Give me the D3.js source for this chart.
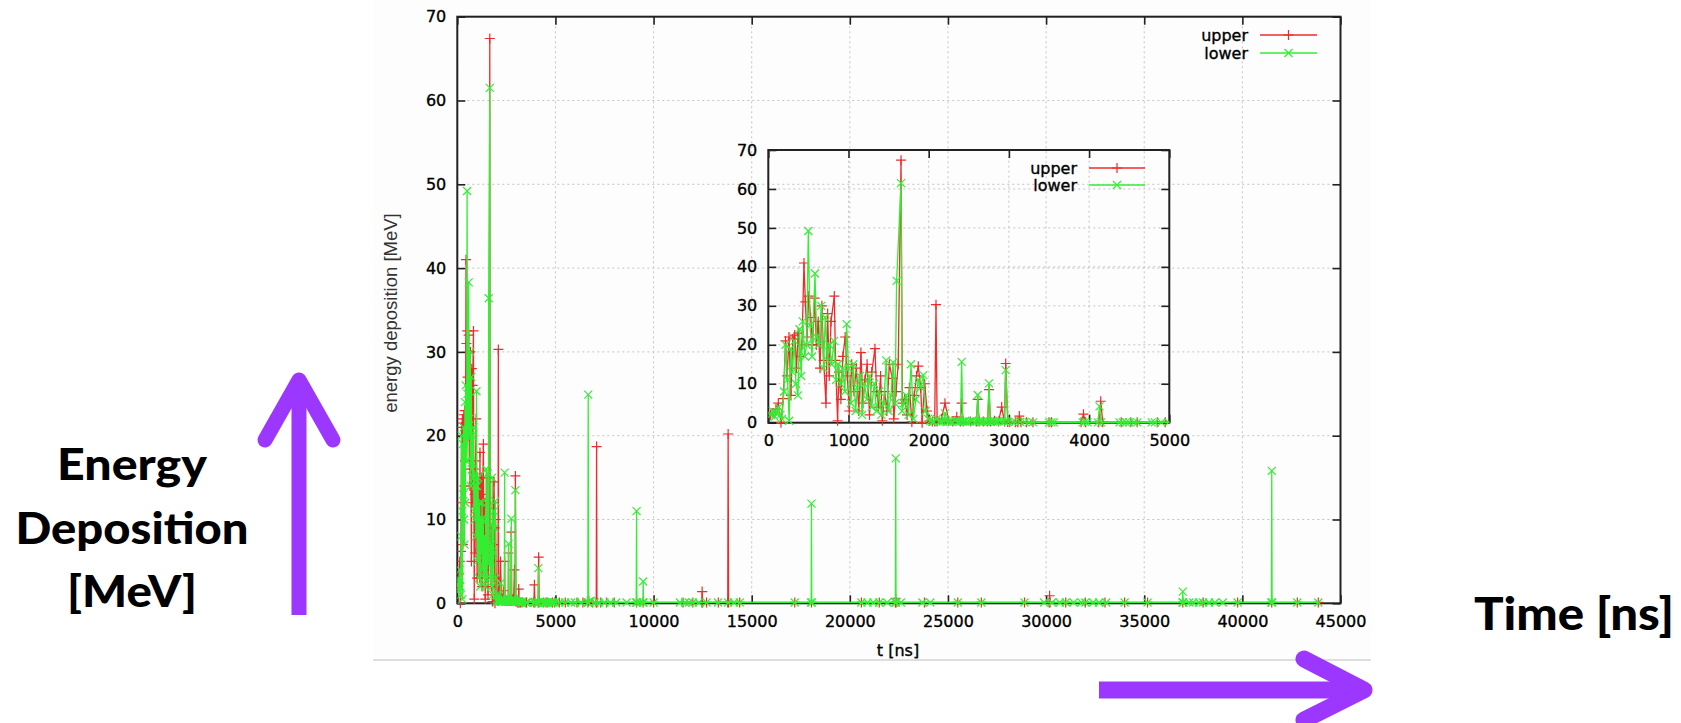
<!DOCTYPE html>
<html><head><meta charset="utf-8">
<script src="https://cdn.jsdelivr.net/npm/d3@7"></script>
<style>
html,body{margin:0;padding:0;background:#fff;}
svg{display:block;}
</style></head>
<body>
<svg id="c" width="1681" height="723"></svg>
<script>
// ---------------- data: [time in ns, energy deposition in MeV] ----------------
const seriesNames = ["upper", "lower"];
const upperPoints = [[30,2],[60,2.5],[95,3.5],[125,5],[158,0],[187,6.2],[215,21],[235,12],[258,22],[282,7],[305,21.5],[330,22.5],[352,14],[372,23],[395,17],[420,20],[445,41],[462,31],[482,22],[505,32.5],[528,27],[552,20],[578,32],[600,20],[622,26],[645,14],[668,30],[690,16],[719,5],[740,28],[760,12],[782,26],[823,32.5],[838,16],[864,0.5],[880,13],[905,6],[930,17],[958,22],[985,12],[1010,3],[1040,15],[1068,8],[1098,14],[1128,3],[1155,18],[1180,5],[1205,11],[1232,15],[1262,2],[1290,13],[1330,19],[1350,8],[1375,4],[1400,12],[1422,0.5],[1450,8],[1478,3],[1510,15],[1547,11.4],[1565,1],[1592,8],[1620,15],[1655,67.4],[1672,5],[1700,6],[1730,2],[1760,9],[1790,0.2],[1820,7],[1848,12],[1870,14.5],[1900,9],[1918,0],[1950,10],[1980,3],
[2010,0.5],[2045,0.3],[2075,0.3],[2091,30.3],[2105,0.3],[2160,1],[2203,5],[2250,0.5],[2300,0.3],[2350,1.5],[2395,0.3],[2411,5],[2430,0.3],[2520,0.3],[2595,0.3],[2611,6],[2630,0.3],[2680,0.3],[2735,0.3],[2752,8.5],[2770,0.3],[2820,0.5],[2870,0.3],[2910,4],[2945,0.3],[2960,15.2],[2985,0.2],
[3010,0.2],[3080,0.1],[3110,0.1],[3130,1.7],[3150,0.1],[3220,0.1],[3300,0.1],[3500,0.1],[3530,0.1],[3900,0.1],[3930,2.2],[3955,0.1],[4120,0.1],[4145,5.5],[4170,0.1],[4400,0.1],[4520,0.1],[4600,0.1],[4850,0.1],[4950,0.1],
[5200,0.1],[5500,0.1],[6100,0.1],[6400,0.1],[6660,0.1],[6700,0.3],[6900,0.1],[7080,0.1],[7097,18.7],[7115,0.1],[7300,0.1],[7600,0.1],[8000,0.1],[9134,0.1],[9470,0.1],[10000,0.1],
[11500,0.1],[12000,0.1],[12460,0.1],[12475,1.4],[12495,0.1],[12700,0.1],[13300,0.1],[13780,0.1],[13800,20.2],[13820,0.1],[14390,0.1],[17195,0.1],[18045,0.1],
[20590,0.1],[21500,0.1],[22320,0.1],[22337,0.6],[22355,0.1],[23800,0.1],[25500,0.1],[26700,0.1],[28900,0.1],[30160,0.1],[30178,0.9],[30200,0.1],[31000,0.1],[32000,0.1],[33000,0.1],[34000,0.1],[35170,0.1],[36966,0.1],[38000,0.1],[39760,0.1],[41497,0.1],[42800,0.1],[43870,0.1]];
const lowerPoints = [[30,2],[55,3],[80,1.5],[105,2.5],[130,4],[150,2],[170,1],[195,8],[215,20],[240,11],[260,0.5],[280,19],[300,13],[325,21],[345,10],[370,7],[390,24],[410,12],[430,26],[455,17],[478,20],[499,49.2],[520,25],[545,17],[582,38.3],[602,22],[630,20],[660,30],[690,14],[710,27],[740,16],[760,20],[790,15],[820,21],[845,11],[870,15],[900,10],[930,14],[955,8],[977,25.3],[1000,14],[1030,5],[1060,15],[1090,3],[1110,9],[1140,12],[1170,2],[1200,10],[1230,6],[1260,12],[1290,4],[1320,10],[1350,3],[1380,8],[1410,2],[1440,5],[1470,16],[1500,3],[1530,7],[1555,15.5],[1580,5],[1600,36.4],[1655,61.5],[1668,3],[1690,5],[1720,7],[1750,2],[1779,15],[1810,1],[1840,6],[1870,11],[1900,9],[1933,12.2],[1960,3],[1990,1],
[2020,0.5],[2040,0.2],[2060,0.3],[2100,1],[2130,0.2],[2150,0.3],[2180,0.3],[2203,2.4],[2230,0.2],[2260,0.3],[2290,0.2],[2330,0.5],[2360,0.3],[2395,0.3],[2411,15.6],[2425,0.3],[2450,0.3],[2480,0.2],[2510,0.3],[2540,0.5],[2570,0.2],[2595,0.3],[2611,7.1],[2625,0.3],[2650,0.3],[2680,0.2],[2710,0.3],[2735,0.3],[2752,10.1],[2768,0.3],[2800,0.3],[2830,0.2],[2850,0.3],[2880,0.5],[2910,0.4],[2945,0.3],[2960,13.5],[2990,0.2],
[3050,0.2],[3080,0.2],[3140,0.2],[3200,0.2],[3250,0.1],[3300,0.1],[3500,0.1],[3530,0.1],[3560,0.1],[3920,0.1],[3950,0.2],[3980,0.1],[4110,0.1],[4130,4.2],[4150,0.1],[4380,0.1],[4420,0.1],[4460,0.1],[4500,0.1],[4560,0.1],[4600,0.1],[4780,0.1],[4820,0.1],[4900,0.1],[4990,0.1],
[5200,0.1],[5500,0.1],[5800,0.1],[6000,0.1],[6300,0.1],[6650,0.1],[6670,24.9],[6690,0.1],[6800,0.3],[7000,0.1],[7200,0.1],[7500,0.1],[7800,0.1],[8100,0.1],[8625,0.1],[9115,0.1],[9134,11],[9150,0.1],[9300,0.1],[9455,0.1],[9470,2.6],[9490,0.1],[10000,0.1],
[11340,0.1],[11600,0.1],[11800,0.1],[12000,0.1],[12300,0.1],[12700,0.1],[13280,0.1],[13800,0.1],[14100,0.1],[14390,0.1],[17195,0.1],[18030,0.1],[18045,11.9],[18060,0.1],
[20590,0.1],[20900,0.1],[21200,0.1],[21500,0.1],[21900,0.1],[22320,0.1],[22337,17.3],[22355,0.1],[22600,0.1],[23700,0.1],[24100,0.1],[25500,0.1],[26700,0.1],[28900,0.1],
[29900,0.1],[30300,0.1],[30700,0.1],[31000,0.1],[31400,0.1],[31800,0.1],[32000,0.1],[32400,0.1],[32700,0.1],[33060,0.1],[34000,0.1],[35170,0.1],[36950,0.1],[36966,1.4],[36985,0.1],[37300,0.1],[37500,0.1],[37800,0.1],[38000,0.1],[38300,0.1],[38600,0.1],[39000,0.1],[39760,0.1],[41480,0.1],[41497,15.8],[41515,0.1],[42800,0.1],[43870,0.1]];
const mainXTicks = [0,5000,10000,15000,20000,25000,30000,35000,40000,45000];
const insetXTicks = [0,1000,2000,3000,4000,5000];
const yTicks = [0,10,20,30,40,50,60,70];
const annotationLeft = ["Energy", "Deposition", "[MeV]"];
const annotationRight = "Time [ns]";
const yLabel = "energy deposition [MeV]";
const xLabel = "t [ns]";

// ---------------- drawing ----------------
const svg = d3.select("#c");
const RED = "#ee2b2b", GREEN = "#33ee33", PURPLE = "#9b37ff";
const series = [
  {name: seriesNames[0], data: upperPoints, color: RED, marker: "M-5,0H5M0,-5V5"},
  {name: seriesNames[1], data: lowerPoints, color: GREEN, marker: "M-4,-4L4,4M-4,4L4,-4"}
];

// chart picture background
svg.append("rect").attr("x", 373).attr("y", 0).attr("width", 998).attr("height", 659).attr("fill", "#fdfdfd");
svg.append("line").attr("x1", 373).attr("x2", 1371).attr("y1", 660).attr("y2", 660)
  .attr("stroke", "#dedede").attr("stroke-width", 2);

const defs = svg.append("defs");
const txt = sel => sel.attr("font-family", "DejaVu Sans").attr("font-size", 16).attr("fill", "#000")
  .attr("stroke", "#000").attr("stroke-width", 0.35);

function panel(id, x, y, xTicks, legend) {
  const g = svg.append("g");
  const [x0, x1] = x.range(), [y0, y1] = y.range();
  defs.append("clipPath").attr("id", id).append("rect")
    .attr("x", x0).attr("y", y1 - 6).attr("width", x1 - x0).attr("height", y0 - y1 + 12);
  // grid
  const grid = g.append("g").attr("stroke", "#c4c4c4").attr("stroke-width", 1).attr("stroke-dasharray", "2,3");
  grid.selectAll(".gx").data(xTicks).join("line")
    .attr("x1", d => x(d)).attr("x2", d => x(d)).attr("y1", y0).attr("y2", y1);
  grid.selectAll(".gy").data(yTicks).join("line")
    .attr("y1", d => y(d)).attr("y2", d => y(d)).attr("x1", x0).attr("x2", x1);
  // axes (inward ticks, mirrored)
  const tk = 8;
  const ax = [
    g.append("g").attr("transform", `translate(0,${y0})`).call(d3.axisBottom(x).tickValues(xTicks).tickSize(-tk).tickPadding(12).tickFormat(d3.format("d"))),
    g.append("g").attr("transform", `translate(0,${y1})`).call(d3.axisTop(x).tickValues(xTicks).tickSize(-tk).tickFormat("")),
    g.append("g").attr("transform", `translate(${x0},0)`).call(d3.axisLeft(y).tickValues(yTicks).tickSize(-tk).tickPadding(11).tickFormat(d3.format("d"))),
    g.append("g").attr("transform", `translate(${x1},0)`).call(d3.axisRight(y).tickValues(yTicks).tickSize(-tk).tickFormat(""))
  ];
  ax.forEach(a => {
    a.select(".domain").remove();
    a.selectAll(".tick line").attr("stroke", "#222").attr("stroke-width", 1.6);
    a.selectAll(".tick text").call(txt);
  });
  // frame
  g.append("rect").attr("x", x0).attr("y", y1).attr("width", x1 - x0).attr("height", y0 - y1)
    .attr("fill", "none").attr("stroke", "#222").attr("stroke-width", 2);
  // data
  const dg = g.append("g").attr("clip-path", `url(#${id})`);
  const line = d3.line().x(d => x(d[0])).y(d => y(d[1]));
  series.forEach(s => {
    dg.append("path").datum(s.data).attr("d", line).attr("fill", "none")
      .attr("stroke", s.color).attr("stroke-width", 1.3).attr("stroke-linejoin", "round");
    dg.append("g").selectAll("path").data(s.data).join("path")
      .attr("transform", d => `translate(${x(d[0])},${y(d[1])})`)
      .attr("d", s.marker).attr("stroke", s.color).attr("stroke-width", 1.2).attr("fill", "none");
  });
  // legend
  series.forEach((s, i) => {
    const ly = legend.y + i * legend.dy;
    g.append("text").attr("x", legend.tx).attr("y", ly).attr("dy", "0.35em")
      .attr("text-anchor", "end").call(txt).text(s.name);
    g.append("line").attr("x1", legend.l0).attr("x2", legend.l1).attr("y1", ly).attr("y2", ly)
      .attr("stroke", s.color).attr("stroke-width", 1.3);
    g.append("path").attr("transform", `translate(${(legend.l0 + legend.l1) / 2},${ly})`)
      .attr("d", s.marker).attr("stroke", s.color).attr("stroke-width", 1.2).attr("fill", "none");
  });
  return g;
}

const xMain = d3.scaleLinear().domain([0, 45000]).range([457.3, 1340.5]);
const yMain = d3.scaleLinear().domain([0, 70]).range([603.3, 16.7]);
panel("clipMain", xMain, yMain, mainXTicks, {tx: 1248, l0: 1260, l1: 1317, y: 35, dy: 18});

svg.append("text").attr("transform", "translate(397,313) rotate(-90)").attr("text-anchor", "middle")
  .attr("font-family", "Liberation Sans").attr("font-size", 18.5).attr("fill", "#333").text(yLabel);
svg.append("text").attr("x", 898).attr("y", 656).attr("text-anchor", "middle").call(txt).text(xLabel);

const xIn = d3.scaleLinear().domain([0, 5000]).range([768.3, 1169.3]);
const yIn = d3.scaleLinear().domain([0, 70]).range([422.7, 150]);
panel("clipInset", xIn, yIn, insetXTicks, {tx: 1077, l0: 1089, l1: 1145, y: 168, dy: 17});

// annotations
const ann = svg.append("g").attr("font-family", "Lato").attr("font-weight", 900).attr("fill", "#000").attr("text-anchor", "middle");
const annW = [150, 233, 130];
annotationLeft.forEach((t, i) => {
  ann.append("text").attr("x", 132).attr("y", 480 + i * 63.5).attr("font-size", 44)
    .attr("textLength", annW[i]).attr("lengthAdjust", "spacingAndGlyphs").text(t);
});
ann.append("text").attr("x", 1574).attr("y", 630).attr("font-size", 46)
  .attr("textLength", 200).attr("lengthAdjust", "spacingAndGlyphs").text(annotationRight);

// arrows
const arr = svg.append("g").attr("fill", "none").attr("stroke", PURPLE);
arr.append("path").attr("d", "M299,615V385").attr("stroke-width", 15);
arr.append("path").attr("d", "M265,440L299,380L333,440").attr("stroke-width", 15)
  .attr("stroke-linecap", "round").attr("stroke-linejoin", "round");
arr.append("path").attr("d", "M1099,690H1360").attr("stroke-width", 17);
arr.append("path").attr("d", "M1304,659L1364,690L1304,720").attr("stroke-width", 17)
  .attr("stroke-linecap", "round").attr("stroke-linejoin", "round");
</script>
</body></html>
